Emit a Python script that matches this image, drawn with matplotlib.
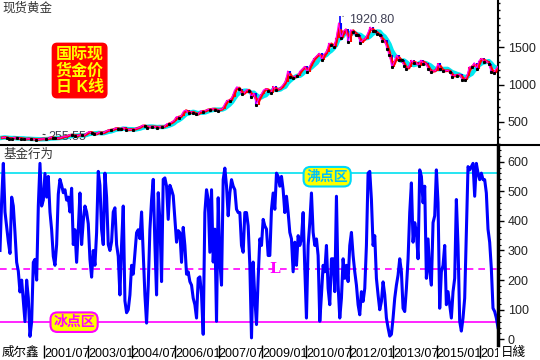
import numpy as np
import pandas as pd
import matplotlib
matplotlib.use('Agg')
import matplotlib.pyplot as plt
from matplotlib.lines import Line2D
from matplotlib.patches import Rectangle
from matplotlib.transforms import Bbox, TransformedBbox

plt.rcParams['font.family'] = ['Liberation Sans', 'Noto Sans CJK SC']

# monthly gold closes, 2000/01 .. 2017/02
gold_close = [
    284, 293, 278, 274, 272, 288, 276, 277, 273, 264, 269, 272,
    265, 266, 258, 263, 267, 270, 265, 273, 293, 279, 275, 277,
    282, 296, 301, 308, 326, 318, 304, 313, 323, 317, 319, 347,
    367, 347, 334, 336, 361, 346, 354, 375, 388, 386, 398, 416,
    400, 396, 424, 388, 393, 395, 391, 407, 416, 428, 453, 438,
    422, 435, 428, 435, 417, 435, 429, 433, 473, 470, 495, 513,
    569, 556, 582, 644, 653, 613, 633, 623, 599, 603, 646, 632,
    650, 665, 662, 677, 659, 650, 665, 672, 743, 789, 783, 834,
    923, 971, 933, 871, 885, 930, 918, 833, 884, 730, 814, 869,
    927, 942, 916, 883, 975, 926, 939, 949, 996, 1040, 1182, 1096,
    1081, 1116, 1113, 1180, 1207, 1244, 1169, 1246, 1307, 1357, 1386, 1421,
    1333, 1411, 1439, 1556, 1536, 1500, 1628, 1828, 1620, 1722, 1746, 1566,
    1737, 1711, 1669, 1664, 1560, 1604, 1615, 1686, 1773, 1719, 1713, 1675,
    1664, 1579, 1595, 1476, 1392, 1234, 1313, 1396, 1327, 1323, 1253, 1202,
    1240, 1326, 1284, 1296, 1250, 1327, 1282, 1286, 1210, 1171, 1183, 1184,
    1283, 1212, 1183, 1183, 1190, 1172, 1095, 1133, 1115, 1142, 1065, 1061,
    1118, 1238, 1233, 1293, 1215, 1321, 1351, 1309, 1316, 1277, 1174, 1152,
    1211, 1250,
]
peak_date, peak_price = 2011.68, 1920.80
low_date, low_price = 2001.30, 255.55

# fund behaviour indicator, read left to right
fund_a = [300, 470, 594, 430, 380, 330, 290, 480, 450, 360, 260, 230, 160, 200, 130,
          60, 200, 140, 10, 60, 260, 270, 200, 450, 594, 450, 470, 560, 480, 550,
          430, 370, 280, 250, 320, 490, 540, 520, 495, 505, 470, 480, 430, 510, 320,
          370, 260, 370, 494, 320, 400, 450, 430, 390, 270, 210, 300, 250, 360, 567,
          520, 370, 320, 561, 480, 320, 300, 330, 430, 444, 320, 280, 150, 320, 450]
fund_b = [130, 90, 100, 150, 250, 220, 290, 360, 370, 340, 430, 290, 150, 55, 180,
          370, 470, 540, 320, 150, 495, 400, 195, 540, 545, 517, 405, 520, 505, 485,
          405, 328, 367, 360, 260, 378, 317, 220, 228, 195, 183, 139, 117, 72, 206,
          211, 150, 17, 428, 505, 472, 294, 505, 261, 372, 61, 478, 261, 183, 539,
          578, 517, 417, 494, 539, 517, 505, 439, 428, 428, 317, 294, 428, 428, 383]
fund_c = [250, 5, 261, 139, 50, 206, 339, 317, 405, 383, 372, 283, 283, 439, 494,
          439, 561, 550, 517, 550, 505, 428, 483, 428, 361, 339, 228, 328, 250, 350,
          317, 339, 428, 239, 72, 317, 394, 494, 361, 317, 339, 283, 61, 150, 250,
          228, 317, 172, 117, 272, 272, 161, 483, 183, 72, 139, 272, 206, 250, 195,
          317, 361, 283, 228, 183, 117, 83, 161, 128, 172, 317, 561, 567, 472, 317]
fund_d = [350, 206, 150, 100, 128, 194, 150, 72, 39, 11, 17, 72, 139, 183, 217,
          272, 228, 105, 94, 172, 272, 428, 528, 328, 394, 361, 272, 572, 550, 461,
          517, 206, 339, 228, 183, 394, 417, 572, 461, 105, 228, 250, 317, 117, 161,
          117, 72, 161, 206, 472, 317, 61, 28, 72, 139, 361, 583, 572, 583, 594,
          483, 594, 561, 539, 561, 539, 539, 494, 372, 328, 239, 105, 94, 72, 40]
fund_flow = fund_a + fund_b + fund_c + fund_d

hot_level = 560
cold_level = 60
mid_level = 238

tick_pos = [2001.5, 2003.0, 2004.5, 2006.0, 2007.5, 2009.0, 2010.5,
            2012.0, 2013.5, 2015.0, 2016.5]
tick_labels = ['2001/07', '2003/01', '2004/07', '2006/01', '2007/07', '2009/01',
               '2010/07', '2012/01', '2013/07', '2015/01', '2016/07']

x_start, x_end = 1999.97, 2017.11
W, H = 540, 360

fig = plt.figure(figsize=(5.4, 3.6), dpi=100)
ax1 = fig.add_axes([0, 1 - 145 / H, 498 / W, 145 / H])
ax2 = fig.add_axes([0, 15 / H, 498 / W, 200 / H])

# ---- top panel: price
s = pd.Series(gold_close, dtype=float)
months = 2000 + (np.arange(len(s)) + 0.5) / 12
opens = s.shift(1).fillna(s[0])
ma_fast = s.rolling(2, min_periods=1).mean()
ma_slow = s.rolling(5, min_periods=1).mean()

ax1.plot(months, ma_slow, color='#00e8f0', lw=3.2, zorder=2)
up = s >= opens
ax1.vlines(months[up], opens[up], s[up], colors='red', lw=1.5, zorder=3)
ax1.vlines(months[~up], opens[~up], s[~up], colors='blue', lw=1.5, zorder=3)
ax1.plot(months, ma_fast, color='red', lw=2, zorder=4)
ax1.plot(months, s, color='magenta', lw=0.8, zorder=5)
ax1.plot(months[~up], s[~up], ls='none', marker='s', ms=1.2, color='black', zorder=6)
ax1.vlines(peak_date, s[139], peak_price, colors='blue', lw=1.2, zorder=3)

ax1.annotate('1920.80', xy=(peak_date, peak_price), xytext=(2011.97, 1865),
             fontsize=9, color='#404055', va='center',
             arrowprops=dict(arrowstyle='-', color='#404040', lw=0.8))
ax1.annotate('255.55', xy=(2001.45, 330), xytext=(2001.62, 292),
             fontsize=9, color='#404055', va='center',
             arrowprops=dict(arrowstyle='-', color='#404040', lw=0.8))

ax1.text(2002.71, 1188, '国际现\n货金价\n日 K线', ha='center', va='center',
         fontsize=11.5, fontweight='bold', color='yellow', linespacing=1.1,
         bbox=dict(boxstyle='round,pad=0.2,rounding_size=0.3', fc='red', ec='red'))

ax1.set_xlim(x_start, x_end)
ax1.set_ylim(187, 2136)
ax1.set_xticks([])
ax1.yaxis.tick_right()
ax1.set_yticks([500, 1000, 1500])
ax1.set_yticks(np.arange(200, 2101, 100), minor=True)
ax1.tick_params(axis='y', which='major', length=4, width=1, labelsize=9, pad=3,
                labelcolor='#222')
ax1.tick_params(axis='y', which='minor', length=1.5, width=1)
for side in ['top', 'left', 'bottom']:
    ax1.spines[side].set_visible(False)
ax1.spines['right'].set_linewidth(1.5)

# ---- bottom panel: fund behaviour
fx = np.linspace(x_start, x_end, len(fund_flow))
ax2.axhline(hot_level, color='#00e0f0', lw=1.2, zorder=1)
ax2.axhline(cold_level, color='magenta', lw=1.2, zorder=1)
ax2.axhline(mid_level, color='magenta', lw=1.2, ls=(0, (4, 3)), zorder=1)
ax2.plot(fx, fund_flow, color='#0000ff', lw=2.2, zorder=2)

ax2.text(2011.23, 549, '沸点区', ha='center', va='center', fontsize=10,
         fontweight='bold', color='#00c0f8', zorder=5,
         bbox=dict(boxstyle='round,pad=0.2,rounding_size=0.5', fc='yellow',
                   ec='#00d8f8', lw=1.5))
ax2.text(2002.52, 58, '冰点区', ha='center', va='center', fontsize=10,
         fontweight='bold', color='magenta', zorder=5,
         bbox=dict(boxstyle='round,pad=0.2,rounding_size=0.5', fc='yellow',
                   ec='magenta', lw=1.5))
ax2.text(2009.44, 237, 'L', ha='center', va='center', fontsize=11,
         fontweight='bold', color='magenta', family='DejaVu Serif', zorder=5)

ax2.set_xlim(x_start, x_end)
ax2.set_ylim(-19, 656)
ax2.yaxis.tick_right()
ax2.set_yticks(np.arange(0, 601, 100))
ax2.set_yticks(np.arange(0, 641, 20), minor=True)
ax2.tick_params(axis='y', which='major', length=4, width=1, labelsize=9, pad=3,
                labelcolor='#222')
ax2.tick_params(axis='y', which='minor', length=2, width=0.8)
ax2.set_xticks(tick_pos)
ax2.set_xticklabels(tick_labels)
ax2.tick_params(axis='x', direction='out', length=9, width=1, labelsize=9, pad=-7)
# date labels stop at the right edge of the chart, as in the original
clip = TransformedBbox(Bbox([[40 / W, 0], [498 / W, 1]]), fig.transFigure)
for lab in ax2.get_xticklabels():
    lab.set_horizontalalignment('left')
    lab.set_clip_on(True)
    lab.set_clip_box(clip)
for side in ['top', 'left', 'bottom']:
    ax2.spines[side].set_visible(False)
ax2.spines['right'].set_linewidth(2.5)

# panel separator and titles
fig.add_artist(Line2D([0, 1], [1 - 145 / H] * 2, color='black', lw=1.5))
fig.text(2 / W, 1 - 8 / H, '现货黄金', fontsize=9, color='#333', va='center')
fig.text(3 / W, 1 - 155 / H, '基金行为', fontsize=9, color='#333', va='center')

fig.text(2 / W, 1 - 353 / H, '威尔鑫', fontsize=9, color='black', va='center')
fig.text(501 / W, 1 - 353 / H, '日綫', fontsize=9, color='black', va='center')

fig.savefig('out.png', dpi=100)
